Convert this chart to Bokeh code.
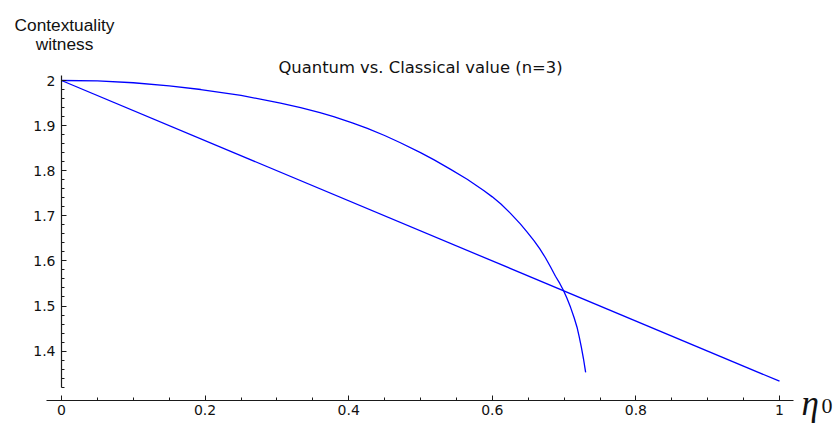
from bokeh.plotting import figure
from bokeh.models import (Range1d, LinearAxis, FixedTicker, CustomJSTickFormatter, Label)
from bokeh.embed import file_html
from bokeh.resources import INLINE

# ---- data ----
eta = [0.0, 1.0]
classical = [2.0, 1.3333]

eta_q = [0.000, 0.050, 0.100, 0.150, 0.194, 0.250, 0.305, 0.333, 0.360, 0.379,
         0.405, 0.426, 0.450, 0.472, 0.500, 0.519, 0.542, 0.565, 0.588, 0.600,
         0.612, 0.625, 0.639, 0.648, 0.658, 0.666, 0.674, 0.681, 0.688, 0.694,
         0.699, 0.704, 0.709, 0.714, 0.718, 0.721, 0.724, 0.727, 0.730]
quantum = [2.000, 1.999, 1.995, 1.988, 1.980, 1.967, 1.950, 1.940, 1.929, 1.920,
           1.906, 1.894, 1.878, 1.862, 1.840, 1.824, 1.803, 1.781, 1.756, 1.742,
           1.726, 1.706, 1.682, 1.665, 1.645, 1.627, 1.607, 1.587, 1.566, 1.550,
           1.535, 1.517, 1.497, 1.474, 1.453, 1.432, 1.409, 1.383, 1.353]

x_ticks = [0.0, 0.2, 0.4, 0.6, 0.8, 1.0]
x_tick_labels = ["0", "0.2", "0.4", "0.6", "0.8", "1"]
x_minor_ticks = [0.05, 0.1, 0.15, 0.25, 0.3, 0.35, 0.45, 0.5, 0.55,
                 0.65, 0.7, 0.75, 0.85, 0.9, 0.95]
y_ticks = [1.4, 1.5, 1.6, 1.7, 1.8, 1.9, 2.0]
y_tick_labels = ["1.4", "1.5", "1.6", "1.7", "1.8", "1.9", "2"]
y_minor_ticks = [1.32, 1.34, 1.36, 1.38, 1.42, 1.44, 1.46, 1.48, 1.52, 1.54,
                 1.56, 1.58, 1.62, 1.64, 1.66, 1.68, 1.72, 1.74, 1.76, 1.78,
                 1.82, 1.84, 1.86, 1.88, 1.92, 1.94, 1.96, 1.98]

title_text = "Quantum vs. Classical value (n=3)"
ylabel_lines = ["Contextuality", "witness"]

# ---- layout helpers (page pixels -> data) ----
PX0, PXU = 61.0, 718.0     # page x of eta=0, px per unit
PY2, PYU = 80.0, 451.0     # page y of value 2, px per unit
OFF = 0                    # canvas origin on the page

def px2x(px):
    return (px - PX0) / PXU

def py2y(py):
    return 2.0 - (py - PY2) / PYU

W, H = 834, 425
p = figure(width=W, height=H, output_backend="svg", toolbar_location=None,
           x_range=Range1d(px2x(OFF), px2x(OFF + W)),
           y_range=Range1d(py2y(OFF + H), py2y(OFF)),
           x_axis_type=None, y_axis_type=None, min_border=0)
p.outline_line_color = None
p.xgrid.visible = False
p.ygrid.visible = False
p.background_fill_color = "white"
p.border_fill_color = "white"

fmt_code = """
for (let i = 0; i < tvals.length; i++) {
  if (Math.abs(tvals[i] - tick) < 1e-9) return tlabs[i];
}
return '';
"""

def style_axis(ax):
    ax.axis_line_color = "#1a1a1a"
    ax.axis_line_width = 1.2
    ax.major_tick_line_color = "#1a1a1a"
    ax.minor_tick_line_color = "#1a1a1a"
    ax.major_tick_in = 5
    ax.major_tick_out = 0
    ax.minor_tick_in = 3
    ax.minor_tick_out = 0
    ax.major_label_text_font = "DejaVu Sans"
    ax.major_label_text_font_size = "14px"
    ax.major_label_text_color = "#111111"

xaxis = LinearAxis(fixed_location=py2y(400.3),
                   bounds=(px2x(46), px2x(793)),
                   ticker=FixedTicker(ticks=x_ticks, minor_ticks=x_minor_ticks),
                   formatter=CustomJSTickFormatter(args=dict(tvals=x_ticks, tlabs=x_tick_labels),
                                                   code=fmt_code))
style_axis(xaxis)
xaxis.major_label_standoff = 4
p.add_layout(xaxis, "below")

yaxis = LinearAxis(fixed_location=0.0,
                   bounds=(py2y(387), py2y(75)),
                   ticker=FixedTicker(ticks=y_ticks, minor_ticks=y_minor_ticks),
                   formatter=CustomJSTickFormatter(args=dict(tvals=y_ticks, tlabs=y_tick_labels),
                                                   code=fmt_code))
style_axis(yaxis)
yaxis.major_label_standoff = 6
p.add_layout(yaxis, "left")

p.line(eta, classical, line_color="#0000ff", line_width=1.3)
p.line(eta_q, quantum, line_color="#0000ff", line_width=1.3, line_join="round")

p.add_layout(Label(x=px2x(420), y=py2y(67.3), text=title_text, text_align="center",
                   text_baseline="alphabetic", text_font="DejaVu Sans",
                   text_font_size="16.4px", text_color="#111111"))
p.add_layout(Label(x=px2x(64), y=py2y(24), text=ylabel_lines[0], text_align="center",
                   text_baseline="alphabetic", text_font="Liberation Sans",
                   text_font_size="17.3px", text_color="#111111"))
p.add_layout(Label(x=px2x(64), y=py2y(43.3), text=ylabel_lines[1], text_align="center",
                   text_baseline="alphabetic", text_font="Liberation Sans",
                   text_font_size="17.3px", text_color="#111111"))
p.add_layout(Label(x=px2x(801), y=py2y(403), text="\u03b7", text_align="left",
                   text_baseline="alphabetic", text_font="Liberation Serif",
                   text_font_style="italic", text_font_size="35px", text_color="#111111"))
p.add_layout(Label(x=px2x(821), y=py2y(405), text="0", text_align="left",
                   text_baseline="alphabetic", text_font="Liberation Serif",
                   text_font_size="22px", text_color="#111111"))

open("out.html", "w").write(file_html(p, INLINE))
